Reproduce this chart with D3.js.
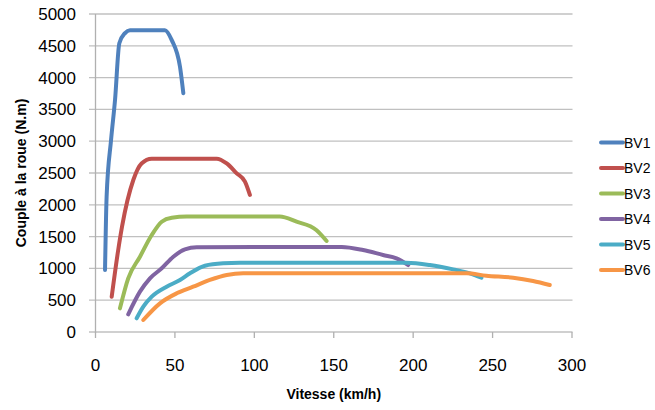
<!DOCTYPE html>
<html><head><meta charset="utf-8">
<script src="https://cdn.jsdelivr.net/npm/d3@7"></script>
<style>body{margin:0;background:#fff}svg{display:block}</style>
</head><body>
<svg id="c" width="655" height="410"></svg>
<script>
const seriesNames = ["BV1","BV2","BV3","BV4","BV5","BV6"];
const colors = ["#4F81BD","#C0504D","#9BBB59","#8064A2","#4BACC6","#F79646"];
const bv1 = [[6,975],[7,2130],[9.8,3020],[12.3,3650],[15,4540],[18.6,4700],[21.7,4745],[43.7,4745],[48,4590],[53.2,4170],[55.3,3755]];
const bv2 = [[10.2,555],[14.3,1290],[16.7,1656],[23.8,2390],[29,2650],[35.4,2725],[76.3,2725],[82.6,2650],[88.9,2495],[94.1,2363],[97.2,2155]];
const bv3 = [[15.4,372],[20.6,844],[28,1184],[35.4,1525],[41.7,1734],[48,1797],[57.4,1815],[116,1815],[126.6,1734],[139,1604],[145.5,1431]];
const bv4 = [[20.6,278],[28,634],[34.3,844],[41.7,1001],[49,1184],[56.3,1300],[63.7,1332],[155,1338],[168.5,1289],[181,1211],[189.5,1159],[196.9,1053]];
const bv5 = [[25.9,215],[30.1,398],[35.4,555],[44.8,712],[53.2,818],[59.5,923],[68.9,1042],[80.4,1080],[91,1088],[195.8,1088],[210.5,1053],[225.2,985],[235.7,923],[243,854]];
const bv6 = [[30.1,189],[40.6,451],[51.1,608],[61.5,712],[72,818],[82.6,896],[93,923],[233.6,923],[246,885],[263,854],[275.5,802],[286,739]];
const seriesData = [bv1,bv2,bv3,bv4,bv5,bv6];
const xTicks = [0,50,100,150,200,250,300];
const yTicks = [0,500,1000,1500,2000,2500,3000,3500,4000,4500,5000];
const xTitle = "Vitesse (km/h)";
const yTitle = "Couple à la roue (N.m)";

const svg = d3.select("#c");
const x = d3.scaleLinear().domain([0,300]).range([95.5,572]);
const y = d3.scaleLinear().domain([0,5000]).range([332,14]);
const font = "'Liberation Sans', Arial, sans-serif";

svg.append("g").selectAll("line").data(yTicks).join("line")
  .attr("x1",89).attr("x2",572.5).attr("y1",d=>y(d)).attr("y2",d=>y(d))
  .attr("stroke","#c0c0c0").attr("stroke-width",1.3);
svg.append("line").attr("x1",x(0)).attr("x2",x(0)).attr("y1",y(5000)).attr("y2",y(0)+0.5)
  .attr("stroke","#b0b0b0").attr("stroke-width",1.3);
svg.append("g").selectAll("line").data(xTicks).join("line")
  .attr("x1",d=>x(d)).attr("x2",d=>x(d)).attr("y1",y(0)).attr("y2",y(0)+6)
  .attr("stroke","#b0b0b0").attr("stroke-width",1.3);

svg.append("g").selectAll("text").data(yTicks).join("text")
  .attr("x",76).attr("y",d=>y(d)+6).attr("text-anchor","end")
  .attr("font-family",font).attr("font-size",17).attr("fill","#000").text(d=>d);
svg.append("g").selectAll("text").data(xTicks).join("text")
  .attr("x",d=>x(d)).attr("y",371).attr("text-anchor","middle")
  .attr("font-family",font).attr("font-size",17).attr("fill","#000").text(d=>d);

svg.append("text").attr("x",(x(0)+x(300))/2).attr("y",399).attr("text-anchor","middle")
  .attr("font-family",font).attr("font-size",14).attr("font-weight","bold").text(xTitle);
svg.append("text").attr("transform",`translate(26,${(y(0)+y(5000))/2}) rotate(-90)`)
  .attr("text-anchor","middle").attr("font-family",font).attr("font-size",14).attr("font-weight","bold").text(yTitle);

const line = d3.line().x(d=>x(d[0])).y(d=>y(d[1])).curve(d3.curveMonotoneX);
svg.append("g").selectAll("path").data(seriesData).join("path")
  .attr("d",line).attr("fill","none").attr("stroke",(d,i)=>colors[i])
  .attr("stroke-width",4).attr("stroke-linecap","round").attr("stroke-linejoin","round");

const lg = svg.append("g").selectAll("g").data(seriesNames).join("g")
  .attr("transform",(d,i)=>`translate(601,${142.5+i*25.5})`);
lg.append("line").attr("x1",0).attr("x2",22).attr("stroke",(d,i)=>colors[i])
  .attr("stroke-width",4).attr("stroke-linecap","round");
lg.append("text").attr("x",23).attr("y",5).attr("font-family",font).attr("font-size",14).text(d=>d);
</script>
</body></html>
